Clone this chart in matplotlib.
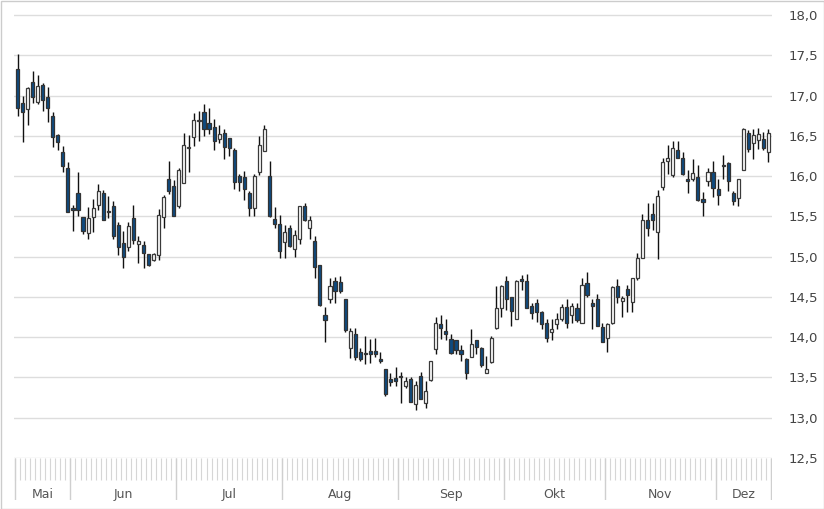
import matplotlib
matplotlib.use("Agg")
import matplotlib.pyplot as plt
from matplotlib.patches import Rectangle
import numpy as np

# daily candles, Mai - Dez
opens = [17.33, 16.91, 16.83, 17.17, 16.92, 17.13, 16.98, 16.75, 16.51, 16.30,
         16.10, 15.60, 15.79, 15.49, 15.29, 15.49, 15.64, 15.79, 15.57, 15.63,
         15.39, 15.17, 15.12, 15.48, 15.16, 15.14, 15.03, 14.96, 15.02, 15.49,
         15.96, 15.88, 15.63, 15.92, 16.35, 16.48, 16.68, 16.79, 16.66, 16.61,
         16.46, 16.54, 16.47, 16.33, 16.00, 15.99, 15.79, 15.61, 16.05, 16.31,
         16.00, 15.47, 15.41, 15.18, 15.35, 15.09, 15.22, 15.63, 15.35, 15.19,
         14.90, 14.28, 14.48, 14.70, 14.68, 14.48, 13.86, 14.04, 13.81, 13.80,
         13.83, 13.83, 13.73, 13.60, 13.48, 13.49, 13.52, 13.39, 13.48, 13.17,
         13.52, 13.18, 13.47, 13.85, 14.16, 14.08, 13.98, 13.97, 13.84, 13.73,
         13.76, 13.96, 13.86, 13.56, 13.69, 14.11, 14.36, 14.70, 14.50, 14.23,
         14.72, 14.70, 14.39, 14.43, 14.31, 14.17, 14.07, 14.16, 14.23, 14.38,
         14.27, 14.36, 14.18, 14.67, 14.43, 14.47, 14.13, 13.99, 14.18, 14.64,
         14.45, 14.60, 14.44, 14.73, 14.98, 15.46, 15.53, 15.31, 15.87, 16.19,
         16.01, 16.32, 16.23, 15.96, 15.97, 15.99, 15.72, 15.94, 16.05, 15.84,
         16.14, 16.16, 15.79, 15.73, 16.08, 16.53, 16.41, 16.45, 16.46, 16.30]
highs = [17.51, 16.99, 17.10, 17.30, 17.26, 17.16, 17.10, 16.80, 16.52, 16.37,
         16.17, 15.64, 16.05, 15.49, 15.62, 15.72, 15.90, 15.83, 15.75, 15.69,
         15.43, 15.32, 15.43, 15.64, 15.26, 15.19, 15.03, 15.04, 15.59, 15.77,
         16.19, 15.95, 16.10, 16.54, 16.51, 16.78, 16.81, 16.90, 16.84, 16.71,
         16.64, 16.58, 16.47, 16.35, 16.03, 16.06, 15.82, 16.02, 16.50, 16.63,
         16.19, 15.62, 15.52, 15.39, 15.39, 15.33, 15.63, 15.66, 15.51, 15.26,
         14.90, 14.38, 14.74, 14.75, 14.76, 14.48, 14.12, 14.11, 13.87, 14.02,
         13.98, 13.99, 13.81, 13.60, 13.55, 13.63, 13.57, 13.51, 13.51, 13.46,
         13.57, 13.46, 13.70, 14.25, 14.27, 14.23, 14.04, 13.97, 13.90, 13.74,
         14.10, 13.97, 13.88, 13.77, 14.01, 14.63, 14.65, 14.76, 14.50, 14.71,
         14.77, 14.78, 14.42, 14.47, 14.32, 14.22, 14.22, 14.30, 14.41, 14.48,
         14.42, 14.42, 14.73, 14.81, 14.47, 14.53, 14.18, 14.18, 14.64, 14.72,
         14.51, 14.65, 14.73, 15.05, 15.53, 15.67, 15.67, 15.83, 16.23, 16.39,
         16.43, 16.44, 16.30, 16.08, 16.21, 16.14, 15.80, 16.10, 16.19, 15.97,
         16.26, 16.18, 15.81, 15.97, 16.60, 16.57, 16.59, 16.60, 16.55, 16.58]
lows = [16.75, 16.42, 16.63, 16.91, 16.89, 16.81, 16.67, 16.36, 16.32, 16.05,
        15.56, 15.32, 15.50, 15.28, 15.22, 15.30, 15.58, 15.45, 15.48, 15.22,
        15.02, 14.86, 15.07, 15.16, 14.92, 14.86, 14.88, 14.95, 14.96, 15.36,
        15.78, 15.51, 15.61, 15.91, 16.05, 16.37, 16.44, 16.50, 16.52, 16.32,
        16.41, 16.21, 16.25, 15.84, 15.81, 15.70, 15.51, 15.50, 16.01, 16.31,
        15.49, 15.35, 14.98, 14.98, 15.12, 15.00, 15.16, 15.44, 15.22, 14.74,
        14.39, 13.94, 14.43, 14.43, 14.55, 14.06, 13.74, 13.72, 13.70, 13.67,
        13.68, 13.76, 13.68, 13.27, 13.39, 13.40, 13.18, 13.37, 13.19, 13.09,
        13.23, 13.12, 13.45, 13.79, 13.98, 13.97, 13.79, 13.79, 13.70, 13.48,
        13.75, 13.79, 13.63, 13.55, 13.68, 14.10, 14.25, 14.34, 14.14, 14.23,
        14.59, 14.36, 14.22, 14.19, 14.10, 13.94, 13.97, 14.10, 14.20, 14.12,
        14.18, 14.19, 14.18, 14.50, 14.10, 14.14, 13.94, 13.81, 14.16, 14.43,
        14.25, 14.31, 14.31, 14.71, 14.98, 15.25, 15.33, 14.97, 15.83, 16.03,
        15.99, 16.22, 16.01, 15.79, 15.94, 15.69, 15.50, 15.88, 15.74, 15.64,
        15.97, 15.82, 15.64, 15.63, 16.08, 16.30, 16.21, 16.34, 16.32, 16.18]
closes = [16.84, 16.80, 17.09, 16.98, 17.12, 16.94, 16.84, 16.48, 16.42, 16.13,
          15.56, 15.58, 15.58, 15.32, 15.48, 15.61, 15.81, 15.45, 15.55, 15.26,
          15.12, 14.99, 15.38, 15.21, 15.19, 15.04, 14.89, 15.03, 15.52, 15.74,
          15.82, 15.51, 16.08, 16.39, 16.36, 16.70, 16.69, 16.58, 16.58, 16.43,
          16.52, 16.36, 16.35, 15.93, 15.93, 15.84, 15.61, 16.00, 16.39, 16.59,
          15.50, 15.40, 15.07, 15.30, 15.13, 15.27, 15.63, 15.46, 15.45, 14.87,
          14.40, 14.21, 14.64, 14.57, 14.57, 14.09, 14.08, 13.75, 13.73, 13.79,
          13.79, 13.79, 13.70, 13.29, 13.44, 13.45, 13.51, 13.46, 13.20, 13.41,
          13.23, 13.33, 13.70, 14.18, 14.12, 14.04, 13.80, 13.84, 13.79, 13.55,
          13.92, 13.88, 13.65, 13.61, 13.99, 14.36, 14.63, 14.48, 14.33, 14.70,
          14.70, 14.36, 14.30, 14.31, 14.16, 13.99, 14.10, 14.23, 14.37, 14.17,
          14.39, 14.21, 14.65, 14.52, 14.39, 14.14, 13.94, 14.16, 14.62, 14.50,
          14.49, 14.52, 14.73, 14.98, 15.45, 15.36, 15.45, 15.75, 16.17, 16.22,
          16.35, 16.23, 16.02, 15.94, 16.04, 15.70, 15.68, 16.05, 15.85, 15.76,
          16.13, 15.94, 15.69, 15.96, 16.59, 16.34, 16.51, 16.52, 16.35, 16.53]

months = ["Mai", "Jun", "Jul", "Aug", "Sep", "Okt", "Nov", "Dez"]
month_days = [11, 21, 21, 23, 21, 20, 22, 11]
yticks = [12.5, 13.0, 13.5, 14.0, 14.5, 15.0, 15.5, 16.0, 16.5, 17.0, 17.5, 18.0]

W, H = 824, 509
fig = plt.figure(figsize=(W / 100, H / 100), dpi=100)

x0, x1 = 14, 772
ax = fig.add_axes([x0 / W, (H - 458) / H, (x1 - x0) / W, 458 / H])
band = fig.add_axes([x0 / W, (H - 500) / H, (x1 - x0) / W, 42 / H], sharex=ax)

o = np.array(opens)
c = np.array(closes)
hi = np.array(highs)
lo = np.array(lows)
x = np.arange(len(o))
up = c >= o

ax.vlines(x, lo, hi, color="#111111", lw=1.0, zorder=2)
bottom = np.minimum(o, c)
height = np.maximum(np.abs(c - o), 0.012)
ax.bar(x[up], height[up], bottom=bottom[up], width=0.62, color="white",
       edgecolor="#3a3a3a", linewidth=0.9, zorder=3)
ax.bar(x[~up], height[~up], bottom=bottom[~up], width=0.62, color="#0e4a80",
       edgecolor="#333333", linewidth=0.9, zorder=3)

ax.set_xlim(-0.7, len(o) - 0.3)
ax.set_ylim(12.5, 18.0 + 15 / 80.55)
ax.set_yticks(yticks)
ax.set_yticklabels([f"{v:.1f}".replace(".", ",") for v in yticks])
ax.yaxis.tick_right()
ax.tick_params(axis="y", length=0, pad=12, labelsize=9.5, labelcolor="#444444")
ax.tick_params(axis="x", bottom=False, labelbottom=False)
ax.grid(axis="y", color="#dddddd", lw=1.0)
ax.set_axisbelow(True)
for s in ax.spines.values():
    s.set_visible(False)

# time band with day ticks and month separators
band.set_ylim(0, 1)
for s in band.spines.values():
    s.set_visible(False)
band.tick_params(left=False, bottom=False, labelleft=False, labelbottom=False)
band.vlines(np.arange(len(o) + 1) - 0.5, 0.47, 1, color="#d6d6d6", lw=0.8)
edges = np.concatenate([[0], np.cumsum(month_days)]) - 0.5
band.vlines(edges, 0, 1, color="#cfcfcf", lw=1.0)
for name, a, b in zip(months, edges[:-1], edges[1:]):
    band.text((a + b) / 2, 0.14, name, ha="center", va="center",
              fontsize=9, color="#555555")

fig.add_artist(Rectangle((0.5 / W, 0.5 / H), (W - 1) / W, (H - 1) / H,
                         transform=fig.transFigure, fill=False,
                         edgecolor="#cccccc", lw=1.0))

fig.savefig("out.png", dpi=100)
